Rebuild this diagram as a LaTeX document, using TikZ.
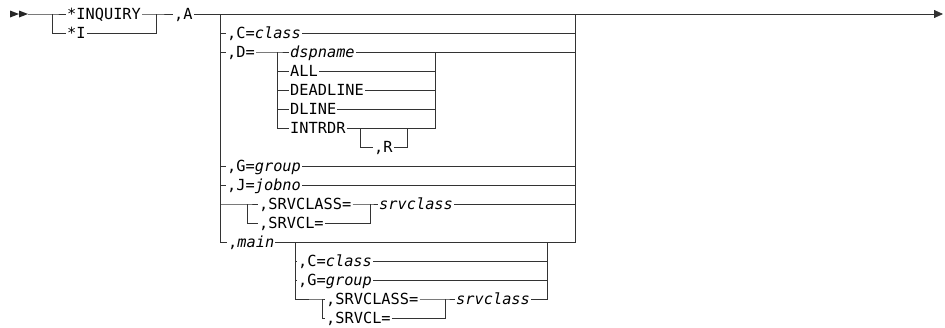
\documentclass[tikz,border=0pt]{standalone}
\usepackage{fontspec}
\setmonofont{DejaVu Sans Mono}
\usetikzlibrary{arrows.meta}
\tikzstyle{kw}=[anchor=west, inner xsep=1pt, inner ysep=0pt, text height=10.9pt, text depth=0pt, font=\fontsize{15.3}{18}\selectfont\ttfamily]
\tikzstyle{rail}=[draw=black!80, line width=0.75pt]
\newcommand{\kw}{\node[kw]}
\newcommand{\var}[1]{\textit{#1}}

\begin{document}
\begin{tikzpicture}[x=1pt, y=-1pt]
\useasboundingbox (0,0) rectangle (945,327);
\fill[black!85] (10,10.5) -- (19,14) -- (10,17.5) -- cycle
  (19,10.5) -- (28,14) -- (19,17.5) -- cycle;
\coordinate (start) at (28,14);
\coordinate (stop) at (943,14);
% keywords and values
\kw (inq) at (66,14) {*INQUIRY};
\kw (inqI) at (66,33) {*I};
\kw (optA) at (173,14) {,A};
\kw (cls) at (226,33) {,C=\var{class}};
\kw (dopt) at (226,52) {,D=};
\kw (dsp) at (289,52) {\var{dspname}};
\kw (all) at (289,71) {ALL};
\kw (dead) at (289,90) {DEADLINE};
\kw (dline) at (289,109) {DLINE};
\kw (intr) at (289,128) {INTRDR};
\kw (optR) at (373,147) {,R};
\kw (grp) at (226,166) {,G=\var{group}};
\kw (job) at (226,185) {,J=\var{jobno}};
\kw (srvc) at (258,204) {,SRVCLASS=};
\kw (srvcl) at (258,223) {,SRVCL=};
\kw (srvv) at (378,204) {\var{srvclass}};
\kw (main) at (227,242) {,\var{main}};
\kw (mcls) at (297,261) {,C=\var{class}};
\kw (mgrp) at (297,280) {,G=\var{group}};
\kw (msrvc) at (325,299) {,SRVCLASS=};
\kw (msrvcl) at (325,318) {,SRVCL=};
\kw (msrvv) at (455,299) {\var{srvclass}};
% branch points
\coordinate (b1) at (52,14);   \coordinate (e1) at (156,14);
\coordinate (b2) at (220,14);  \coordinate (e2) at (575,14);
\coordinate (b3) at (277,52);  \coordinate (e3) at (435,52);
\coordinate (b4) at (360,128); \coordinate (e4) at (407,128);
\coordinate (b5) at (247,204); \coordinate (e5) at (370,204);
\coordinate (b6) at (295,242); \coordinate (e6) at (547,242);
\coordinate (b7) at (322,299); \coordinate (e7) at (445,299);
% main line
\draw[rail] (start) -- (b1) -- (inq.west);
\draw[rail] (b1) |- (inqI.west);
\draw[rail] (inqI.east) -| (e1);
\draw[rail] (inq.east) -- (e1) -- (optA.west);
\draw[rail,-{Triangle[length=9pt,width=8pt]}] (optA.east) -- (stop);
% options after ,A
\draw[rail] (b2) |- (main.west);
\draw[rail] (main.east) -| (e2);
\draw[rail] (b2|-cls) -- (cls.west) (cls.east) -- (e2|-cls);
\draw[rail] (b2|-dopt) -- (dopt.west) (dopt.east) -- (b3) -- (dsp.west)
  (dsp.east) -- (e2|-dsp);
\draw[rail] (b2|-grp) -- (grp.west) (grp.east) -- (e2|-grp);
\draw[rail] (b2|-job) -- (job.west) (job.east) -- (e2|-job);
% D=
\draw[rail] (b3) |- (intr.west);
\draw[rail] (b3|-all) -- (all.west) (all.east) -- (e3|-all);
\draw[rail] (b3|-dead) -- (dead.west) (dead.east) -- (e3|-dead);
\draw[rail] (b3|-dline) -- (dline.west) (dline.east) -- (e3|-dline);
\draw[rail] (intr.east) -- (e3|-intr) -- (e3);
\draw[rail] (b4) |- (optR.west);
\draw[rail] (optR.east) -| (e4);
% SRVCLASS=
\draw[rail] (b2|-srvc) -- (b5) -- (srvc.west);
\draw[rail] (b5) |- (srvcl.west);
\draw[rail] (srvcl.east) -| (e5);
\draw[rail] (srvc.east) -- (e5) -- (srvv.west);
\draw[rail] (srvv.east) -- (e2|-srvv);
% main
\draw[rail] (b6) |- (b7) -- (msrvc.west);
\draw[rail] (b6|-mcls) -- (mcls.west) (mcls.east) -- (e6|-mcls);
\draw[rail] (b6|-mgrp) -- (mgrp.west) (mgrp.east) -- (e6|-mgrp);
\draw[rail] (msrvc.east) -- (e7) -- (msrvv.west);
\draw[rail] (msrvv.east) -| (e6);
\draw[rail] (b7) |- (msrvcl.west);
\draw[rail] (msrvcl.east) -| (e7);
\end{tikzpicture}
\end{document}
